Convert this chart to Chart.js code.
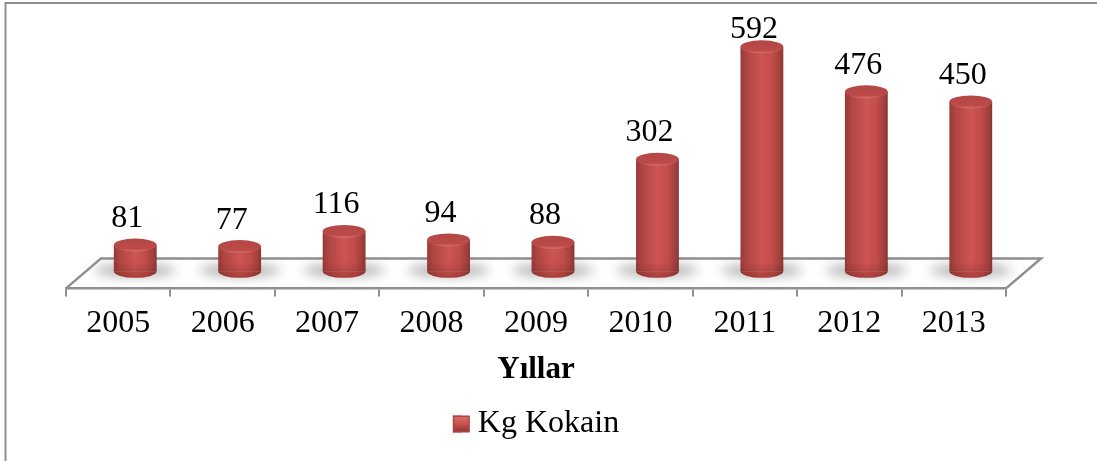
<!DOCTYPE html>
<html><head><meta charset="utf-8">
<style>html,body{margin:0;padding:0;background:#fff}canvas{display:block}</style>
<script src="https://cdn.jsdelivr.net/npm/chart.js@4"></script>
</head><body><canvas id="c" width="1097" height="461"></canvas>
<script>
const categories = ['2005','2006','2007','2008','2009','2010','2011','2012','2013'];
const kgKokain = [81,77,116,94,88,302,592,476,450];
const seriesName = 'Kg Kokain';
const axisTitle = 'Yıllar';
const SERIF = '"Liberation Serif","Times New Roman",serif';
const GRAY = '#8f8f8f';
const DX = 17, DY = -12, RY = 6.5, DEPTH_X = 35, DEPTH_Y = 30;

function barGradient(ctx, l, r){
  const g = ctx.createLinearGradient(l,0,r,0);
  g.addColorStop(0,'#963a37'); g.addColorStop(0.15,'#b04643');
  g.addColorStop(0.5,'#cd5552'); g.addColorStop(0.75,'#c04c49');
  g.addColorStop(0.94,'#9c3e3b'); g.addColorStop(1,'#883330');
  return g;
}
const scene = {
  id:'scene',
  beforeDatasetsDraw(chart){
    const {ctx,chartArea:a} = chart;
    ctx.save();
    ctx.strokeStyle=GRAY; ctx.lineWidth=2;
    ctx.beginPath(); ctx.moveTo(5.5,461); ctx.lineTo(5.5,3); ctx.lineTo(1097,3); ctx.stroke();
    ctx.lineWidth=2.5; ctx.lineJoin='miter';
    ctx.beginPath();
    ctx.moveTo(a.left,a.bottom); ctx.lineTo(a.left+DEPTH_X,a.bottom-DEPTH_Y);
    ctx.lineTo(a.right+DEPTH_X,a.bottom-DEPTH_Y); ctx.lineTo(a.right,a.bottom);
    ctx.stroke();
    const meta = chart.getDatasetMeta(0);
    ctx.filter='blur(6px)';
    ctx.fillStyle='rgba(120,120,120,0.65)';
    meta.data.forEach(b=>{
      ctx.beginPath();
      ctx.ellipse(b.x+DX,a.bottom-18,41,5.5,0,0,Math.PI*2);
      ctx.fill();
    });
    ctx.restore();
    ctx.save(); ctx.translate(DX,DY);
  },
  afterDatasetsDraw(chart){
    const {ctx} = chart;
    const meta = chart.getDatasetMeta(0);
    meta.data.forEach(b=>{
      const l=b.x-b.width/2, r=b.x+b.width/2;
      ctx.fillStyle=barGradient(ctx,l,r);
      ctx.beginPath(); ctx.ellipse(b.x,b.base,b.width/2,RY,0,0,Math.PI); ctx.fill();
      const top=b.base-10;
      const shade=ctx.createLinearGradient(0,top,0,b.base+RY);
      shade.addColorStop(0,'rgba(110,30,28,0)'); shade.addColorStop(1,'rgba(110,30,28,0.35)');
      ctx.fillStyle=shade;
      ctx.beginPath(); ctx.moveTo(l,top); ctx.lineTo(r,top); ctx.lineTo(r,b.base);
      ctx.ellipse(b.x,b.base,b.width/2,RY,0,0,Math.PI); ctx.closePath(); ctx.fill();
      const lid = ctx.createLinearGradient(0,b.y-RY,0,b.y+RY);
      lid.addColorStop(0,'#b24744'); lid.addColorStop(0.78,'#bc4b48'); lid.addColorStop(1,'#d96f6b');
      ctx.beginPath(); ctx.ellipse(b.x,b.y,b.width/2,RY,0,0,Math.PI*2);
      ctx.fillStyle=lid; ctx.fill();
    });
    ctx.restore();
    ctx.save();
    ctx.fillStyle='#000'; ctx.font='32px '+SERIF; ctx.textAlign='center'; ctx.textBaseline='alphabetic';
    meta.data.forEach((b,i)=>{
      ctx.fillText(String(kgKokain[i]), b.x+DX-8, Math.max(b.y+DY-18,38));
    });
    ctx.restore();
  },
  afterDraw(chart){
    const hb=chart.legend.legendHitBoxes[0], {ctx}=chart;
    if(!hb) return;
    const x=hb.left, y=hb.top+hb.height/2-8.5;
    ctx.save();
    const g=ctx.createLinearGradient(0,y,0,y+17);
    g.addColorStop(0,'#d9716d'); g.addColorStop(0.5,'#c9504d'); g.addColorStop(1,'#8f3532');
    ctx.fillStyle='#a84542'; ctx.fillRect(x,y,17,17);
    ctx.fillStyle=g; ctx.fillRect(x+1.5,y+1.5,14,14);
    ctx.restore();
  }
};
const c = document.getElementById('c');
new Chart(c,{
  type:'bar',
  data:{labels:categories,datasets:[{
    label:seriesName,data:kgKokain,base:13,
    categoryPercentage:0.41,barPercentage:1,
    backgroundColor(ctx){
      const chart=ctx.chart;
      if(!chart.chartArea) return '#c0504d';
      const w=(chart.chartArea.width/categories.length)*0.41;
      const x=chart.scales.x.getPixelForValue(ctx.dataIndex);
      return barGradient(chart.ctx,x-w/2,x+w/2);
    },
    borderWidth:0
  }]},
  options:{
    responsive:false,animation:false,
    layout:{padding:{left:66,right:91,top:17,bottom:11}},
    plugins:{
      tooltip:{enabled:false},
      legend:{position:'bottom',
        labels:{color:'#000',font:{family:SERIF,size:32},boxWidth:9,boxHeight:17,padding:8,
          generateLabels(){return [{text:seriesName,fillStyle:'#c0504d',strokeStyle:'#c0504d',lineWidth:0,fontColor:'#000'}];}}
      }
    },
    scales:{
      x:{offset:true,
        grid:{display:true,drawOnChartArea:false,color:GRAY,lineWidth:2,tickLength:8,offset:true},
        border:{color:GRAY,width:2.5},
        ticks:{color:'#000',font:{family:SERIF,size:32},padding:8,maxRotation:0,autoSkip:false},
        title:{display:true,text:axisTitle,color:'#000',font:{family:SERIF,size:31,weight:'bold'},padding:{top:1,bottom:11}}
      },
      y:{display:false,min:0,max:700}
    }
  },
  plugins:[scene]
});
</script></body></html>
